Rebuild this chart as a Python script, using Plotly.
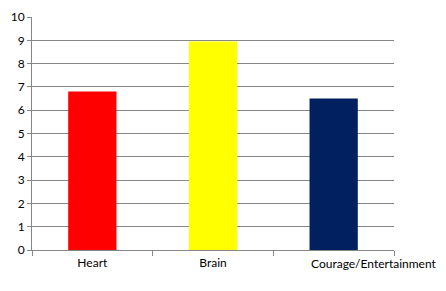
import plotly.graph_objects as go

categories = ["Heart", "Brain", "Courage/Entertainment"]
values = [6.8, 8.95, 6.5]
colors = ["#FF0000", "#FFFF00", "#002060"]
y_ticks = list(range(0, 11))

fig = go.Figure(go.Bar(x=categories, y=values, marker=dict(color=colors, line=dict(width=0)), width=0.4))

# last category label is drawn offset to the right, as in the reference
tick_text = categories[:-1] + [""]

fig.add_annotation(
    x=categories[-1], y=0, xref="x", yref="paper",
    text=categories[-1], showarrow=False,
    xanchor="center", yanchor="top", xshift=40, yshift=-4,
    font=dict(family="Lato, Calibri, sans-serif", size=12, color="#000000"),
)

fig.update_layout(
    width=446, height=291,
    margin=dict(l=32, r=52, t=17, b=41),
    paper_bgcolor="white", plot_bgcolor="white",
    font=dict(family="Lato, Calibri, sans-serif", size=12, color="#000000"),
    showlegend=False,
    bargap=0.6,
)
fig.update_xaxes(
    range=[-0.5, len(categories) - 0.5],
    tickvals=categories, ticktext=tick_text,
    showline=True, linecolor="#868686", linewidth=1,
    ticks="outside", tickson="boundaries", ticklen=5, tickcolor="#868686",
    showgrid=False, zeroline=False, tickangle=0, automargin=False,
    ticklabelstandoff=2,
)
fig.update_yaxes(
    range=[0, 10], tickvals=y_ticks, showline=True, linecolor="#868686", linewidth=1,
    ticks="outside", ticklen=4, tickcolor="#868686", automargin=False,
    showgrid=True, gridcolor="#868686", gridwidth=1, zeroline=False,
)
fig.write_html("out.html")
